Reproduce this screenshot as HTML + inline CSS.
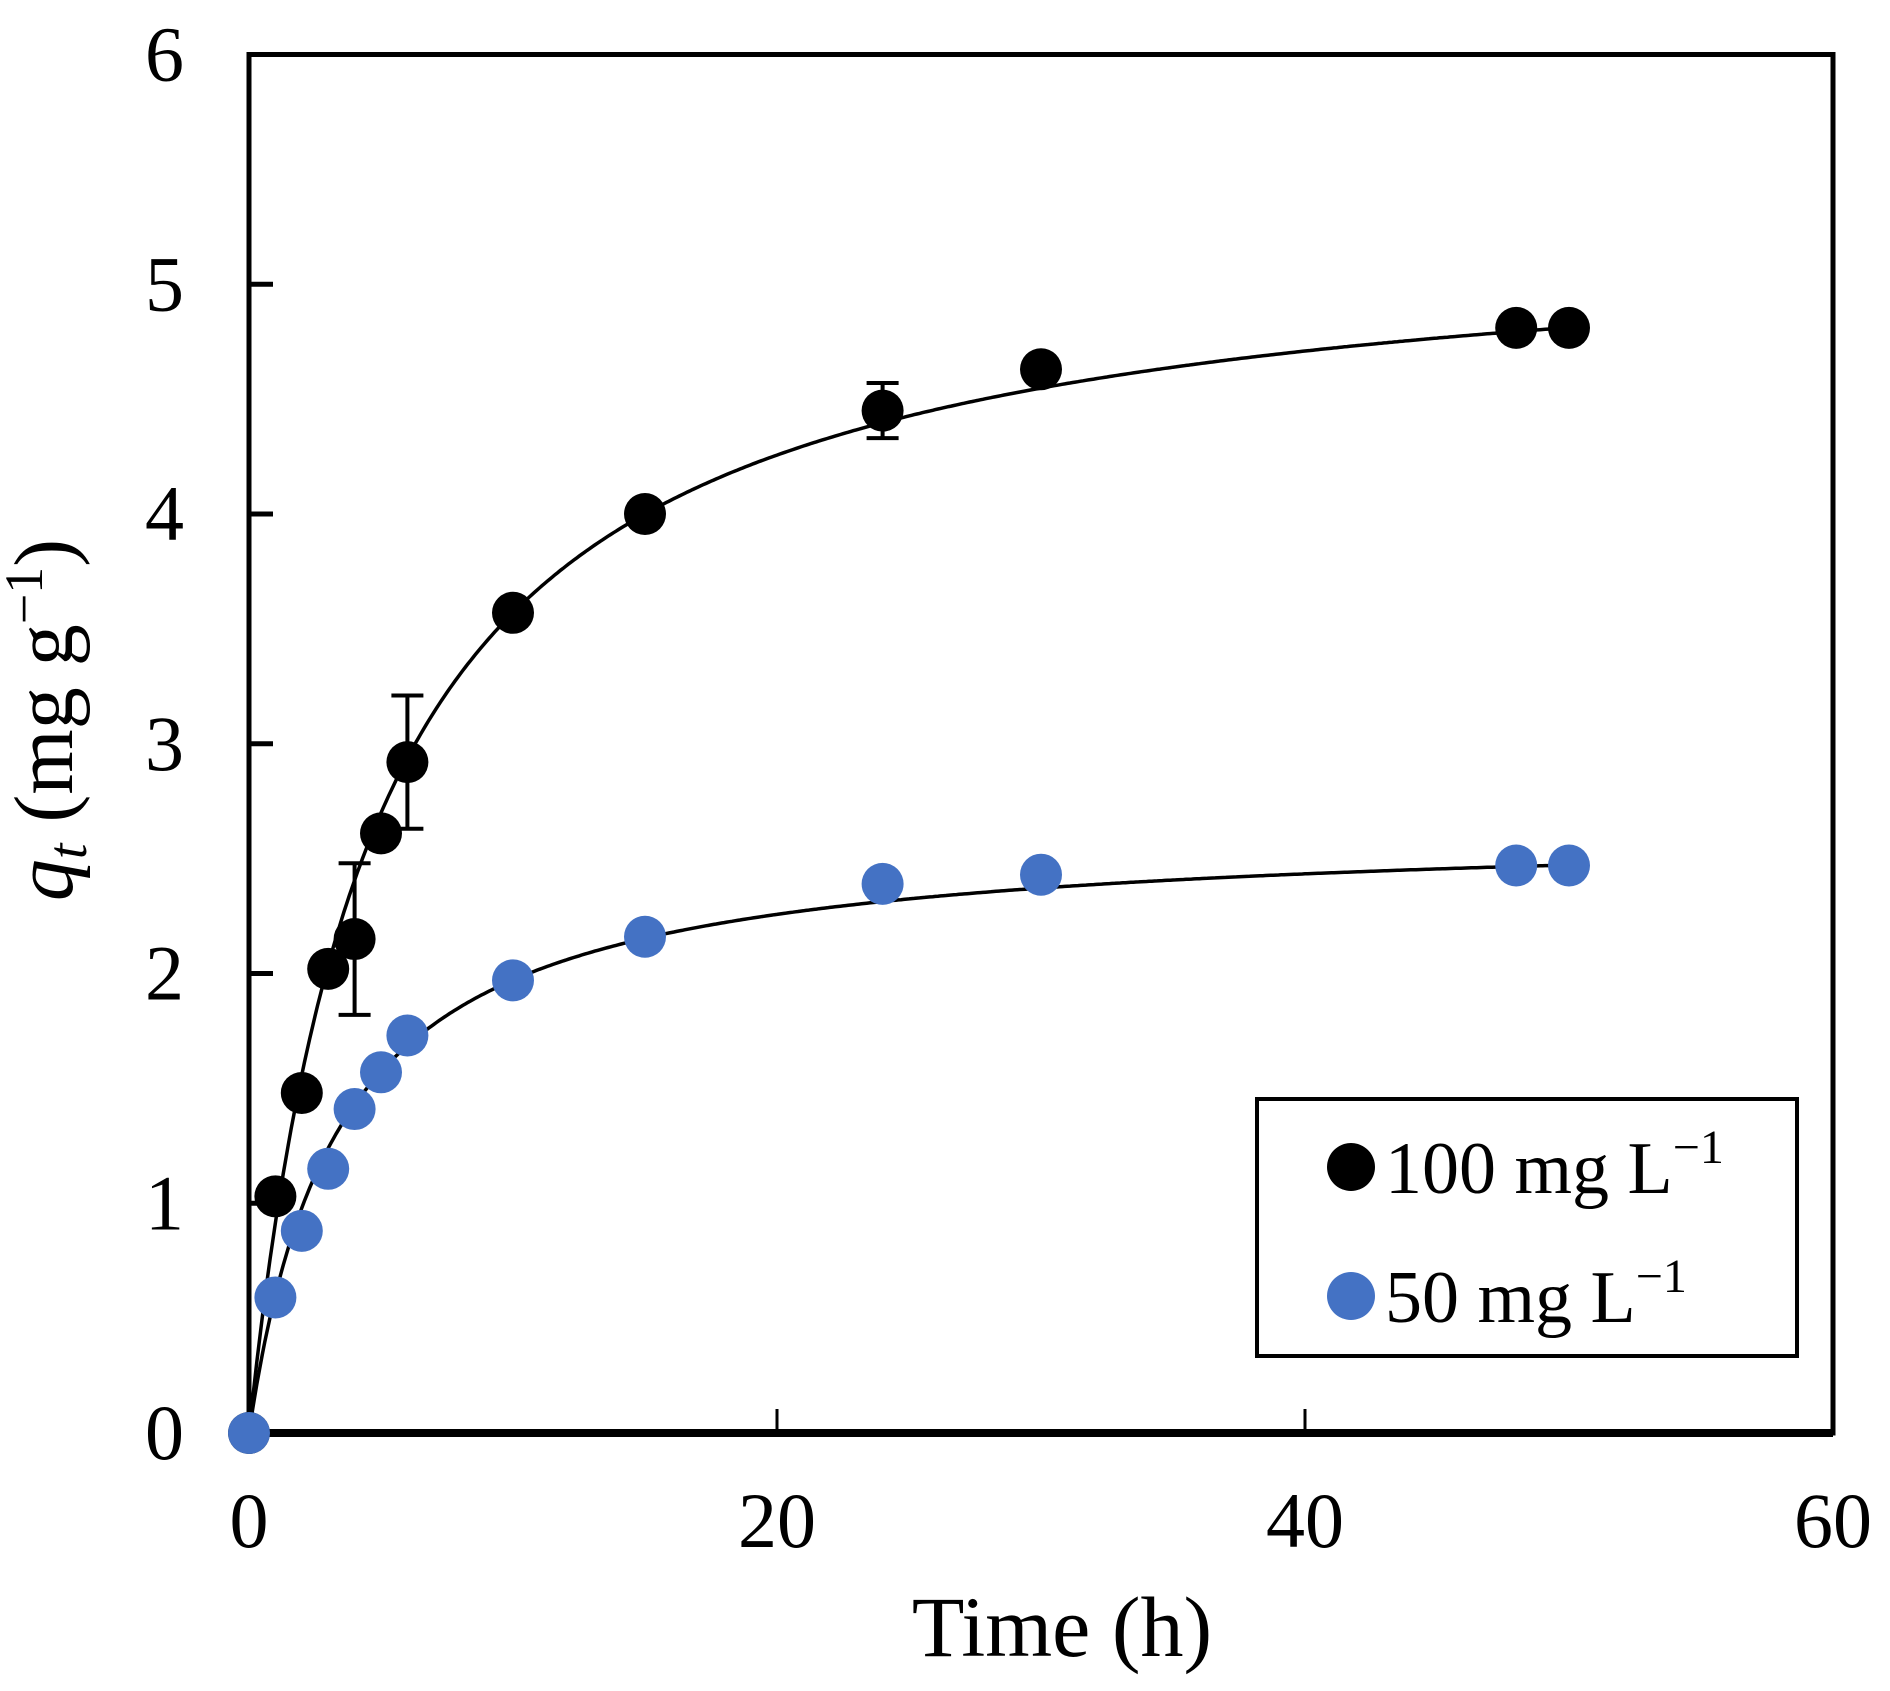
<!DOCTYPE html>
<html><head><meta charset="utf-8"><style>
html,body{margin:0;padding:0;background:#fff;}
svg{display:block;font-family:"Liberation Serif","Times New Roman",serif;}
</style></head><body>
<svg id="chart" width="1890" height="1691" viewBox="0 0 1890 1691" xmlns="http://www.w3.org/2000/svg">
<g id="axes"></g>
<g id="curves"></g>
<g id="errs"></g>
<g id="pts"></g>
<text x="1062" y="1656" font-size="86" text-anchor="middle">Time (h)</text>
<text transform="translate(72,720) rotate(-90)" font-size="84" text-anchor="middle"><tspan font-style="italic">q</tspan><tspan font-style="italic" font-size="56" dy="14">t</tspan><tspan dy="-14"> (mg g</tspan><tspan font-size="54" dy="-30">−1</tspan><tspan dy="30">)</tspan></text>
<g>
<rect x="1257" y="1099" width="540" height="257" fill="#fff" stroke="#000" stroke-width="4"/>
<circle cx="1351" cy="1167" r="24" fill="#000"/>
<text x="1385" y="1193" font-size="74">100 mg L<tspan font-size="48" dy="-30">−1</tspan></text>
<circle cx="1351" cy="1296" r="24" fill="#4472C4"/>
<text x="1385" y="1322" font-size="74">50 mg L<tspan font-size="48" dy="-30">−1</tspan></text>
</g>
</svg>
<script>
const times = [0,1,2,3,4,5,6,10,15,24,30,48,50];
const q100 = [0,1.03,1.48,2.02,2.15,2.61,2.92,3.57,4.0,4.45,4.63,4.81,4.81];
const err100 = [0,0,0,0.05,0.33,0,0.29,0,0,0.12,0.05,0,0];
const q50 = [0,0.59,0.88,1.15,1.41,1.57,1.73,1.97,2.16,2.39,2.43,2.47,2.47];
const fit100 = [5.27,0.21];
const fit50 = [2.64,0.295];
const xTicks = [0,20,40,60];
const yTicks = [0,1,2,3,4,5,6];

const X0=249,X1=1833,Y0=1433,Y1=54.5;
const xs=v=>X0+(v/60)*(X1-X0);
const ys=v=>Y0-(v/6)*(Y0-Y1);
const NS='http://www.w3.org/2000/svg';
function mk(tag,parent,attrs){const e=document.createElementNS(NS,tag);for(const k in attrs)e.setAttribute(k,attrs[k]);parent.appendChild(e);return e;}
const axes=document.getElementById('axes');
let r=mk('rect',axes,{x:X0,y:Y1,width:X1-X0,height:Y0-Y1,fill:'none',stroke:'#000','stroke-width':5});


let b=mk('line',axes,{x1:X0,x2:X1,y1:Y0,y2:Y0,stroke:'#000','stroke-width':8});


xTicks.forEach(t=>{
  if(t>0&&t<60){let l=mk('line',axes,{x1:xs(t),x2:xs(t),y1:Y0,y2:Y0-24,stroke:'#000','stroke-width':3});
  
  }
  let tx=mk('text',axes,{x:xs(t),y:1547,'font-size':78,'text-anchor':'middle'});tx.textContent=t;
  
  
});
yTicks.forEach(t=>{
  if(t>0&&t<6){let l=mk('line',axes,{x1:X0,x2:X0+24,y1:ys(t),y2:ys(t),stroke:'#000','stroke-width':5});
  
  }
  let tx=mk('text',axes,{x:184,y:ys(t)+26,'font-size':78,'text-anchor':'end'});tx.textContent=t;
  
  
});
const curves=document.getElementById('curves');
[[fit100,'fit-curve-100'],[fit50,'fit-curve-50']].forEach(([p,n])=>{
  let d='';for(let i=0;i<=500;i++){const t=50*i/500;const q=p[0]*p[1]*t/(1+p[1]*t);d+=(i?'L':'M')+xs(t).toFixed(1)+','+ys(q).toFixed(1);}
  let pa=mk('path',curves,{d:d,fill:'none',stroke:'#000','stroke-width':3.5});
  
  
});
const errs=document.getElementById('errs');
times.forEach((t,i)=>{
  const e=err100[i];if(!e)return;
  const x=xs(t),a=ys(q100[i]+e),c=ys(q100[i]-e);
  let g=mk('path',errs,{d:`M${x},${a}V${c}M${x-16},${a}H${x+16}M${x-16},${c}H${x+16}`,stroke:'#000','stroke-width':4,fill:'none'});
  
  
});
const pts=document.getElementById('pts');
times.forEach((t,i)=>{
  let c=mk('circle',pts,{cx:xs(t),cy:ys(q100[i]),r:21,fill:'#000'});
  
  
});
times.forEach((t,i)=>{
  let c=mk('circle',pts,{cx:xs(t),cy:ys(q50[i]),r:21,fill:'#4472C4'});
  
  
});
</script>
</body></html>
